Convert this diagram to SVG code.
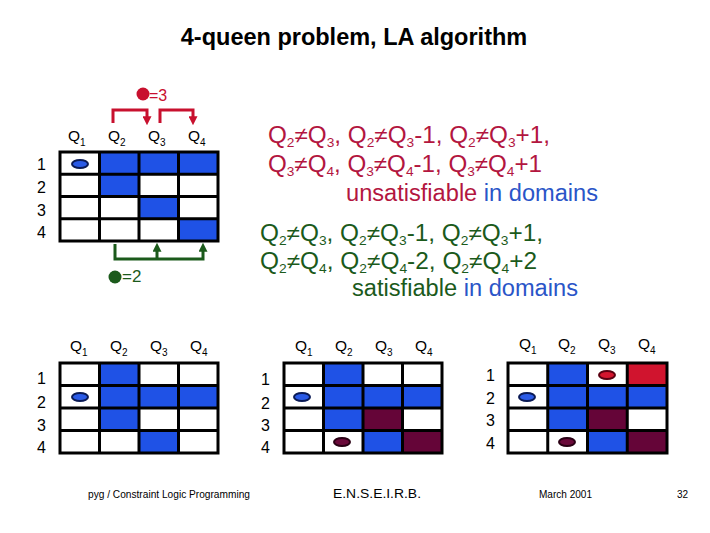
<svg xmlns="http://www.w3.org/2000/svg" width="710" height="533" viewBox="0 0 710 533">
<style>
text{font-family:"Liberation Sans",Arial,sans-serif;}
.title{font-size:23.5px;font-weight:bold;fill:#000;}
.ql{font-size:15.5px;fill:#000;}
.qs{font-size:10px;}
.rn{font-size:16px;fill:#000;}
.grid{fill:none;stroke:#000;stroke-width:3;}
.b{fill:#1f52e6;}
.m{fill:#650538;}
.r{fill:#d0142e;}
.eb{fill:#2a5ae6;stroke:#0a1a55;stroke-width:2;}
.em{fill:#6a0a3a;stroke:#2a0014;stroke-width:2;}
.er{fill:#d4152e;stroke:#5a0010;stroke-width:2;}
.red{fill:#b3163f;}
.grn{fill:#1b5a1b;}
.blu{fill:#2a55c8;}
.big{font-size:23px;}
.s{font-size:13px;}
.foot{font-size:10px;fill:#000;}
.rarrow{fill:none;stroke:#c8102e;stroke-width:3;}
.garrow{fill:none;stroke:#1b5a1b;stroke-width:3;}
</style>
<defs>
<marker id="ar" viewBox="0 0 10 10" refX="2" refY="5" markerWidth="3" markerHeight="3" orient="auto" markerUnits="strokeWidth">
<path d="M0,0 L10,5 L0,10 z" fill="#c8102e"/>
</marker>
<marker id="ag" viewBox="0 0 10 10" refX="2" refY="5" markerWidth="3" markerHeight="3" orient="auto" markerUnits="strokeWidth">
<path d="M0,0 L10,5 L0,10 z" fill="#1b5a1b"/>
</marker>
</defs>
<rect width="710" height="533" fill="#fff"/>

<text id="title" class="title" x="354" y="45" text-anchor="middle">4-queen problem, LA algorithm</text>

<g id="label-eq3">
<circle cx="143" cy="94" r="6.5" fill="#c8102e"/>
<text x="149" y="101" font-size="16" fill="#c8102e">=3</text>
</g>
<g id="label-eq2">
<circle cx="115" cy="277" r="6.5" fill="#1b5a1b"/>
<text x="122" y="282" font-size="17" fill="#1b5a1b">=2</text>
</g>

<g id="connectors">
<path class="rarrow" d="M113,123 V110 H147 V118" marker-end="url(#ar)"/>
<path class="rarrow" d="M160,123 V110 H193 V118" marker-end="url(#ar)"/>
<path class="garrow" d="M115,244 V259 H203 V250" marker-end="url(#ag)"/>
<path class="garrow" d="M157,259 V250" marker-end="url(#ag)"/>
</g>

<g id="grid1">
<text class="ql" x="68" y="141">Q<tspan class="qs" dy="5">1</tspan></text>
<text class="ql" x="108" y="141">Q<tspan class="qs" dy="5">2</tspan></text>
<text class="ql" x="148" y="141">Q<tspan class="qs" dy="5">3</tspan></text>
<text class="ql" x="188" y="141">Q<tspan class="qs" dy="5">4</tspan></text>
<text class="rn" x="37" y="170">1</text>
<text class="rn" x="37" y="193">2</text>
<text class="rn" x="37" y="216">3</text>
<text class="rn" x="37" y="238">4</text>
<rect class="b" x="99.5" y="152" width="118.5" height="22.25"/>
<rect class="b" x="99.5" y="174.25" width="39.5" height="22.25"/>
<rect class="b" x="139" y="196.5" width="39.5" height="22.25"/>
<rect class="b" x="178.5" y="218.75" width="39.5" height="22.25"/>
<path class="grid" d="M60,152 H218 V241 H60 Z M99.5,152 V241 M139,152 V241 M178.5,152 V241 M60,174.25 H218 M60,196.5 H218 M60,218.75 H218"/>
<ellipse class="eb" cx="80" cy="164" rx="8" ry="4"/>
</g>

<g id="unsat-text">
<text class="red big" x="268" y="143" textLength="282" lengthAdjust="spacingAndGlyphs">Q<tspan class="s" dy="4">2</tspan><tspan dy="-4">≠Q</tspan><tspan class="s" dy="4">3</tspan><tspan dy="-4">, Q</tspan><tspan class="s" dy="4">2</tspan><tspan dy="-4">≠Q</tspan><tspan class="s" dy="4">3</tspan><tspan dy="-4">-1, Q</tspan><tspan class="s" dy="4">2</tspan><tspan dy="-4">≠Q</tspan><tspan class="s" dy="4">3</tspan><tspan dy="-4">+1,</tspan></text>
<text class="red big" x="268" y="172" textLength="274" lengthAdjust="spacingAndGlyphs">Q<tspan class="s" dy="4">3</tspan><tspan dy="-4">≠Q</tspan><tspan class="s" dy="4">4</tspan><tspan dy="-4">, Q</tspan><tspan class="s" dy="4">3</tspan><tspan dy="-4">≠Q</tspan><tspan class="s" dy="4">4</tspan><tspan dy="-4">-1, Q</tspan><tspan class="s" dy="4">3</tspan><tspan dy="-4">≠Q</tspan><tspan class="s" dy="4">4</tspan><tspan dy="-4">+1</tspan></text>
<text class="big" x="346" y="201" textLength="252" lengthAdjust="spacingAndGlyphs"><tspan class="red">unsatisfiable </tspan><tspan class="blu">in domains</tspan></text>
</g>
<g id="sat-text">
<text class="grn big" x="260" y="241" textLength="283" lengthAdjust="spacingAndGlyphs">Q<tspan class="s" dy="4">2</tspan><tspan dy="-4">≠Q</tspan><tspan class="s" dy="4">3</tspan><tspan dy="-4">, Q</tspan><tspan class="s" dy="4">2</tspan><tspan dy="-4">≠Q</tspan><tspan class="s" dy="4">3</tspan><tspan dy="-4">-1, Q</tspan><tspan class="s" dy="4">2</tspan><tspan dy="-4">≠Q</tspan><tspan class="s" dy="4">3</tspan><tspan dy="-4">+1,</tspan></text>
<text class="grn big" x="260" y="269" textLength="277" lengthAdjust="spacingAndGlyphs">Q<tspan class="s" dy="4">2</tspan><tspan dy="-4">≠Q</tspan><tspan class="s" dy="4">4</tspan><tspan dy="-4">, Q</tspan><tspan class="s" dy="4">2</tspan><tspan dy="-4">≠Q</tspan><tspan class="s" dy="4">4</tspan><tspan dy="-4">-2, Q</tspan><tspan class="s" dy="4">2</tspan><tspan dy="-4">≠Q</tspan><tspan class="s" dy="4">4</tspan><tspan dy="-4">+2</tspan></text>
<text class="big" x="352" y="296" textLength="226" lengthAdjust="spacingAndGlyphs"><tspan class="grn">satisfiable </tspan><tspan class="blu">in domains</tspan></text>
</g>

<g id="grid2">
<text class="ql" x="70" y="351">Q<tspan class="qs" dy="5">1</tspan></text>
<text class="ql" x="110" y="351">Q<tspan class="qs" dy="5">2</tspan></text>
<text class="ql" x="150" y="351">Q<tspan class="qs" dy="5">3</tspan></text>
<text class="ql" x="190" y="351">Q<tspan class="qs" dy="5">4</tspan></text>
<text class="rn" x="37" y="384">1</text>
<text class="rn" x="37" y="408">2</text>
<text class="rn" x="37" y="431">3</text>
<text class="rn" x="37" y="453">4</text>
<rect class="b" x="99.5" y="363" width="39.5" height="67.5"/>
<rect class="b" x="139" y="385.5" width="79" height="22.5"/>
<rect class="b" x="139" y="430.5" width="39.5" height="22.5"/>
<path class="grid" d="M60,363 H218 V453 H60 Z M99.5,363 V453 M139,363 V453 M178.5,363 V453 M60,385.5 H218 M60,408 H218 M60,430.5 H218"/>
<ellipse class="eb" cx="80" cy="397" rx="8" ry="4"/>
</g>

<g id="grid3">
<text class="ql" x="295" y="351">Q<tspan class="qs" dy="5">1</tspan></text>
<text class="ql" x="335" y="351">Q<tspan class="qs" dy="5">2</tspan></text>
<text class="ql" x="375" y="351">Q<tspan class="qs" dy="5">3</tspan></text>
<text class="ql" x="415" y="351">Q<tspan class="qs" dy="5">4</tspan></text>
<text class="rn" x="261" y="385">1</text>
<text class="rn" x="261" y="409">2</text>
<text class="rn" x="261" y="431">3</text>
<text class="rn" x="261" y="453">4</text>
<rect class="b" x="323.5" y="363" width="39.5" height="67.5"/>
<rect class="b" x="363" y="385.5" width="79" height="22.5"/>
<rect class="m" x="363" y="408" width="39.5" height="22.5"/>
<rect class="b" x="363" y="430.5" width="39.5" height="22.5"/>
<rect class="m" x="402.5" y="430.5" width="39.5" height="22.5"/>
<path class="grid" d="M284,363 H442 V453 H284 Z M323.5,363 V453 M363,363 V453 M402.5,363 V453 M284,385.5 H442 M284,408 H442 M284,430.5 H442"/>
<ellipse class="eb" cx="302" cy="397" rx="8" ry="4"/>
<ellipse class="em" cx="342" cy="442" rx="8" ry="4"/>
</g>

<g id="grid4">
<text class="ql" x="519" y="349">Q<tspan class="qs" dy="5">1</tspan></text>
<text class="ql" x="558" y="349">Q<tspan class="qs" dy="5">2</tspan></text>
<text class="ql" x="598" y="349">Q<tspan class="qs" dy="5">3</tspan></text>
<text class="ql" x="638" y="349">Q<tspan class="qs" dy="5">4</tspan></text>
<text class="rn" x="486" y="381">1</text>
<text class="rn" x="486" y="404">2</text>
<text class="rn" x="486" y="426">3</text>
<text class="rn" x="486" y="449">4</text>
<rect class="b" x="547.75" y="363" width="39.75" height="67.5"/>
<rect class="r" x="627.25" y="363" width="39.75" height="22.5"/>
<rect class="b" x="587.5" y="385.5" width="79.5" height="22.5"/>
<rect class="m" x="587.5" y="408" width="39.75" height="22.5"/>
<rect class="b" x="587.5" y="430.5" width="39.75" height="22.5"/>
<rect class="m" x="627.25" y="430.5" width="39.75" height="22.5"/>
<path class="grid" d="M508,363 H667 V453 H508 Z M547.75,363 V453 M587.5,363 V453 M627.25,363 V453 M508,385.5 H667 M508,408 H667 M508,430.5 H667"/>
<ellipse class="er" cx="607" cy="375" rx="8" ry="4"/>
<ellipse class="eb" cx="527" cy="397" rx="8" ry="4"/>
<ellipse class="em" cx="567" cy="442" rx="8" ry="4"/>
</g>

<g id="footer">
<text class="foot" x="88" y="498" textLength="162" lengthAdjust="spacingAndGlyphs">pyg  / Constraint Logic Programming</text>
<text class="foot" x="333" y="498" style="font-size:12px" textLength="88" lengthAdjust="spacingAndGlyphs">E.N.S.E.I.R.B.</text>
<text class="foot" x="539" y="498" textLength="53" lengthAdjust="spacingAndGlyphs">March 2001</text>
<text class="foot" x="677" y="498">32</text>
</g>
</svg>
